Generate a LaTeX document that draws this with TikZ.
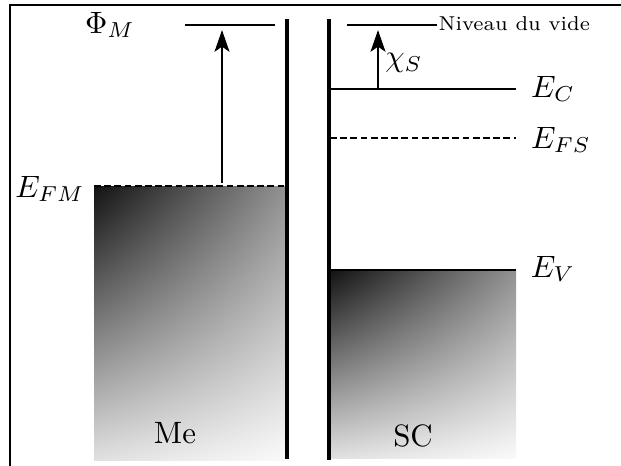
\documentclass[tikz,border=0pt]{standalone}
\usetikzlibrary{arrows.meta,shadings}
\begin{document}
\begin{tikzpicture}[x=0.3236pt,y=-0.3236pt,
  frame/.style={line width=0.35pt},
  wall/.style={line width=1.1pt},
  level/.style={line width=0.8pt},
  fermi/.style={line width=0.75pt, dash pattern=on 2.2pt off 1.1pt},
  up/.style={line width=0.8pt,-{Stealth[length=7pt,width=4.8pt,inset=1.6pt]}},
  band/.style={upper left=black!93, upper right=black!43, lower left=black!12, lower right=black!2},
  lbl/.style={inner sep=0pt, anchor=base}]
\useasboundingbox (0,0) rectangle (621,465);
% frame (only top and left visible)
\coordinate (fBL) at (10,475);
\coordinate (fTL) at (10,5);
\coordinate (fTR) at (640,5);
\draw[frame] (fBL) -- (fTL) -- (fTR);
% bands
\shade[band] (94,186) rectangle (286,460);
\shade[band] (330,270) rectangle (516,458);
% metal side
\coordinate (phiL) at (185,25);
\coordinate (phiR) at (275,25);
\draw[level] (phiL) -- (phiR);
\node[lbl] (phi) at (110,33) {$\Phi_M$};
\coordinate (efmL) at (94,186);
\coordinate (efmR) at (287,186);
\draw[fermi] (efmL) -- (efmR);
\node[lbl] (efm) at (50,197) {$E_{FM}$};
\coordinate (a1s) at (222,183);
\coordinate (a1e) at (222,30);
\draw[up] (a1s) -- (a1e);
\node[lbl] (me) at (175,443) {Me};
% walls
\coordinate (w1t) at (287,19);
\coordinate (w1b) at (287,459);
\coordinate (w2t) at (329,19);
\coordinate (w2b) at (329,460);
\draw[wall] (w1t) -- (w1b);
\draw[wall] (w2t) -- (w2b);
% semiconductor side
\coordinate (vacL) at (347,25);
\coordinate (vacR) at (437,25);
\draw[level] (vacL) -- (vacR);
\node[inner sep=0pt, anchor=base west] (vac) at (438,30) {\fontsize{6.5pt}{8pt}\selectfont Niveau du vide};
\coordinate (ecL) at (330,89);
\coordinate (ecR) at (516,89);
\draw[level] (ecL) -- (ecR);
\node[lbl] (ec) at (553,97) {$E_C$};
\coordinate (a2s) at (378,88);
\coordinate (a2e) at (378,30);
\draw[up] (a2s) -- (a2e);
\node[inner sep=0pt] (chi) at (404,63) {$\chi_S$};
\coordinate (efsL) at (330,138);
\coordinate (efsR) at (516,138);
\draw[fermi] (efsL) -- (efsR);
\node[lbl] (efs) at (561,148) {$E_{FS}$};
\coordinate (evL) at (330,270);
\coordinate (evR) at (516,270);
\draw[level] (evL) -- (evR);
\node[lbl] (ev) at (553,277) {$E_V$};
\node[lbl] (sc) at (413,446) {SC};
\end{tikzpicture}
\end{document}
